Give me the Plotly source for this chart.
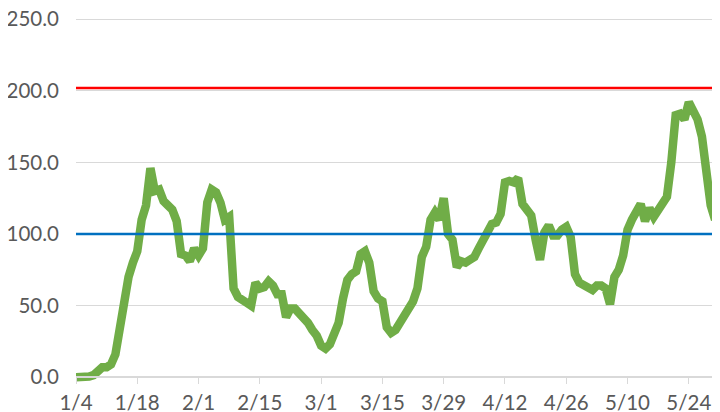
import pandas as pd
import plotly.graph_objects as go

# ---- data ----
start_date = "2021-01-04"
values = [
    0, 0, 0, 0.5, 1.5, 4, 7, 7, 9, 16,
    35, 55, 70, 80, 88, 110, 120, 146, 130, 131,
    123, 120, 117, 109, 86, 85, 81, 90, 85, 90,
    122, 131, 129, 122, 110, 112, 62, 56, 53, 52,
    50, 66, 62, 63, 67, 64, 58, 58, 42, 48,
    48, 45, 42, 38, 33, 29, 22, 20, 23, 29,
    38, 55, 68, 72, 74, 86, 88, 80, 60, 55,
    53, 35, 31, 33, 38, 43, 48, 53, 62, 84,
    91, 110, 115, 110, 125, 100, 96, 77, 81, 80,
    82, 84, 90, 96, 101, 107, 108, 114, 136, 137,
    136, 139, 121, 117, 113, 96, 82, 101, 106, 99,
    99, 103, 105, 98, 72, 66, 64, 62, 61, 64,
    64, 62, 51, 70, 75, 85, 103, 110, 116, 121,
    109, 118, 112, 116, 120, 126, 150, 183, 184, 180,
    192, 186, 180, 168, 145, 120, 110,
]
red_limit = 202
blue_limit = 100
tick_dates = ["2021-01-04", "2021-01-18", "2021-02-01", "2021-02-15", "2021-03-01",
              "2021-03-15", "2021-03-29", "2021-04-12", "2021-04-26", "2021-05-10",
              "2021-05-24"]
tick_labels = ["1/4", "1/18", "2/1", "2/15", "3/1", "3/15", "3/29", "4/12", "4/26",
               "5/10", "5/24"]
y_ticks = [0, 50, 100, 150, 200, 250]

dates = pd.date_range(start_date, periods=len(values), freq="D")

fig = go.Figure()
fig.add_trace(go.Scatter(x=dates, y=values, mode="lines",
                         line=dict(color="#70AD47", width=8.5), hoverinfo="skip"))
fig.add_trace(go.Scatter(x=dates, y=[blue_limit] * len(dates), mode="lines",
                         line=dict(color="#0070C0", width=2.5), hoverinfo="skip"))
fig.add_trace(go.Scatter(x=dates, y=[red_limit] * len(dates), mode="lines",
                         line=dict(color="#FF0000", width=2.5), hoverinfo="skip"))

font_family = "Lato"
fsize = 20.5
y_min, y_max = -4, 251.5
fig.update_layout(
    width=720, height=412,
    margin=dict(l=68, r=8, t=9, b=37, autoexpand=False),
    paper_bgcolor="white", plot_bgcolor="white",
    showlegend=False,
    font=dict(family=font_family, size=fsize, color="#595959"),
)
fig.update_xaxes(
    type="date",
    range=["2021-01-04", "2021-05-31 03:00"],
    tickvals=tick_dates, ticktext=tick_labels,
    showgrid=False, zeroline=False,
    showline=True, linecolor="#D9D9D9", linewidth=1.5,
    ticks="outside", ticklen=6, tickcolor="#D9D9D9", tickwidth=1,
    anchor="free", position=(0 - y_min) / (y_max - y_min),
    automargin=False, ticklabelstandoff=1, ticklabeloverflow="allow",
    tickfont=dict(family=font_family, size=fsize, color="#595959"),
)
fig.update_yaxes(
    range=[y_min, y_max],
    tickvals=y_ticks, tickformat=".1f",
    showgrid=True, gridcolor="#D9D9D9", gridwidth=1,
    zeroline=False, showline=False,
    ticks="", ticklabelstandoff=16, automargin=False, ticklabeloverflow="allow",
    tickfont=dict(family=font_family, size=fsize, color="#595959"),
)

fig.write_html("out.html")
